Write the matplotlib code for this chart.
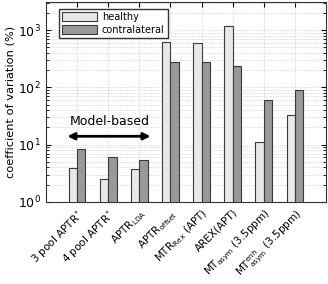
import matplotlib.pyplot as plt
import numpy as np

labels = [r'3 pool APTR$^*$', r'4 pool APTR$^*$', r'APTR$_{\rm LDA}$',
          r'APTR$_{\rm offset}$', r'MTR$_{\rm Rex}$ (APT)', 'AREX(APT)',
          r'MT$_{\rm asym}$ (3.5ppm)', r'MT$^{\rm enh}_{\rm asym}$ (3.5ppm)']
healthy = [3.9, 2.5, 3.7, 614, 598, 1180, 11.2, 33.5]
contralateral = [8.3, 6.1, 5.3, 275, 275, 238, 61, 89]

plt.rcParams['font.family'] = 'DejaVu Sans'
plt.rcParams['mathtext.fontset'] = 'dejavusans'

fig = plt.figure(figsize=(3.28, 2.84), dpi=100)
ax = fig.add_axes([0.140, 0.289, 0.854, 0.704])

x = np.arange(1, len(labels) + 1)
w = 0.27
ax.bar(x - w / 2, healthy, w, color='#e8e8e8', edgecolor='#3a3a3a', linewidth=0.8,
       label='healthy', zorder=3)
ax.bar(x + w / 2, contralateral, w, color='#999999', edgecolor='#3a3a3a', linewidth=0.8,
       label='contralateral', zorder=3)

ax.set_yscale('log')
ax.set_ylim(1, 3100)
ax.set_xlim(0, 9)
ax.set_xticks(x)
ax.set_xticklabels(labels, rotation=45, ha='right', rotation_mode='anchor', fontsize=7.5)
ax.tick_params(axis='both', which='both', direction='in', top=True, right=True)
ax.tick_params(axis='y', labelsize=9)
ax.grid(True, which='both', linestyle=':', linewidth=0.5, color='#bbbbbb', zorder=0)
ax.set_ylabel('coefficient of variation (%)', fontsize=8.2, labelpad=2)
for s in ax.spines.values():
    s.set_color('#333333')

ax.annotate('', xy=(0.6, 14), xytext=(3.45, 14),
            arrowprops=dict(arrowstyle='<|-|>', color='black', lw=2, mutation_scale=10))
ax.text(2.05, 19.5, 'Model-based', ha='center', va='bottom', fontsize=9)

leg = ax.legend(loc='upper left', fontsize=7, fancybox=False, edgecolor='#333333',
                handlelength=3.6, handleheight=1.0, borderpad=0.3, labelspacing=0.3,
                handletextpad=0.5, bbox_to_anchor=(0.03, 0.99), framealpha=1)

fig.savefig('out.png', dpi=100)
